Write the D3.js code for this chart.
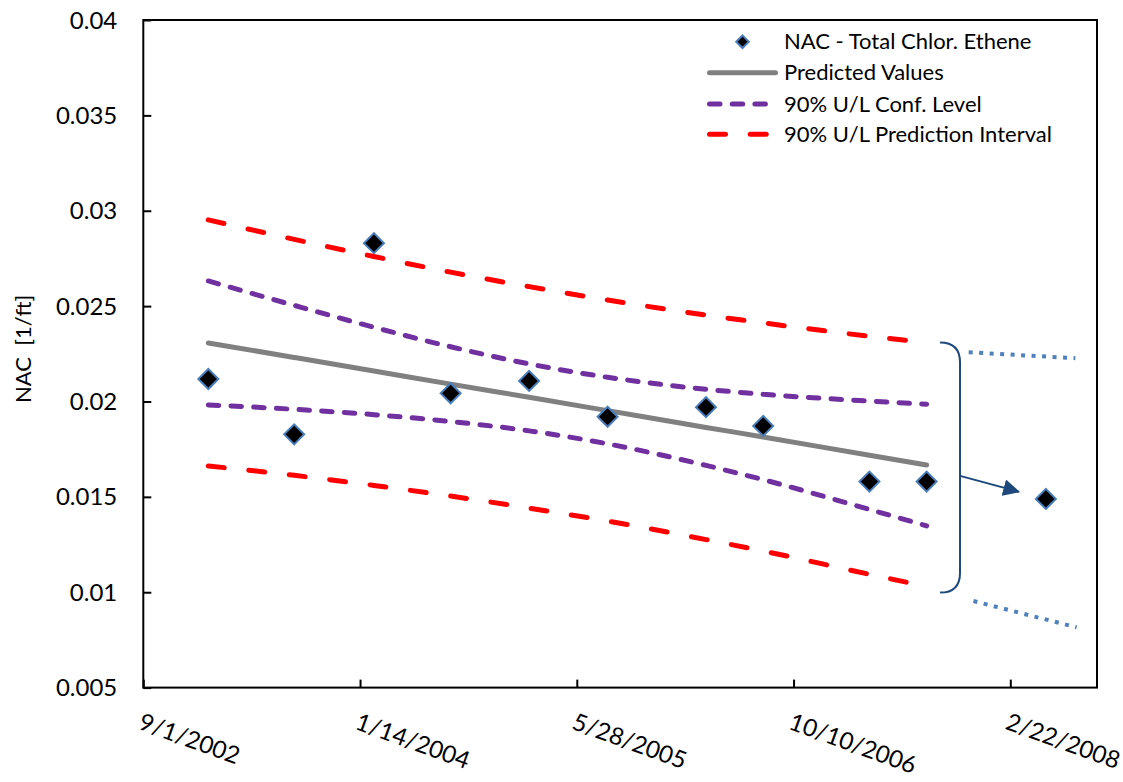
<!DOCTYPE html>
<html>
<head>
<meta charset="utf-8">
<script src="https://cdn.jsdelivr.net/npm/d3@7"></script>
<style>
  body { margin: 0; background: #fff; }
  svg { display: block; font-family: Lato, "Open Sans", sans-serif; }
</style>
</head>
<body>
<svg id="chart" width="1123" height="782"></svg>
<script>
// Observed NAC samples (total chlorinated ethene)
const sampleDates = ["2003-01-29", "2003-08-15", "2004-02-15", "2004-08-10", "2005-02-07",
                     "2005-08-07", "2006-03-22", "2006-08-01", "2007-04-03", "2007-08-13", "2008-05-14"];
const nacValues   = [0.02118, 0.01828, 0.02830, 0.02043, 0.02108,
                     0.01920, 0.01970, 0.01872, 0.01580, 0.01580, 0.01489];

// Regression fit evaluated at the dates used for the fit
const fitDates    = ["2003-01-29", "2003-08-15", "2004-02-15", "2004-08-10", "2005-02-07",
                     "2005-08-07", "2006-03-22", "2006-08-01", "2007-04-03", "2007-08-13"];
const predicted   = [0.02307, 0.02231, 0.02160, 0.02091, 0.02022, 0.01952, 0.01864, 0.01814, 0.01718, 0.01667];
const confUpper   = [0.02632, 0.02504, 0.02389, 0.02287, 0.02197, 0.02127, 0.02064, 0.02038, 0.02002, 0.01986];
const confLower   = [0.01982, 0.01959, 0.01931, 0.01895, 0.01846, 0.01778, 0.01665, 0.01590, 0.01434, 0.01348];
const predUpper   = [0.02952, 0.02850, 0.02760, 0.02678, 0.02602, 0.02532, 0.02453, 0.02412, 0.02342, 0.02309];
const predLower   = [0.01662, 0.01613, 0.01560, 0.01504, 0.01441, 0.01373, 0.01276, 0.01216, 0.01094, 0.01030];

// Projection annotation: bracket, arrow and dotted extension of the interval
const bracketDates  = ["2007-09-13", "2007-10-29"];
const bracketValues = [0.02309, 0.00998];
const arrowDates    = ["2007-10-29", "2008-03-12"];
const arrowValues   = [0.01610, 0.01527];
const extUpperDates = ["2007-11-18", "2008-07-21"];
const extUpperVals  = [0.02258, 0.02227];
const extLowerDates = ["2007-11-29", "2008-07-24"];
const extLowerVals  = [0.00954, 0.00816];

// Axes
const xDomain     = ["2002-09-01", "2008-09-09"];
const xTickDates  = ["2002-09-01", "2004-01-14", "2005-05-28", "2006-10-10", "2008-02-22"];
const xTickLabels = ["9/1/2002", "1/14/2004", "5/28/2005", "10/10/2006", "2/22/2008"];
const yTicks      = [0.005, 0.01, 0.015, 0.02, 0.025, 0.03, 0.035, 0.04];
const yTickLabels = ["0.005", "0.01", "0.015", "0.02", "0.025", "0.03", "0.035", "0.04"];

const seriesNames = ["NAC - Total Chlor. Ethene", "Predicted Values",
                     "90% U/L Conf. Level", "90% U/L Prediction Interval"];

const parse = d3.utcParse("%Y-%m-%d");
const svg = d3.select("#chart");
const W = 1123, H = 782;
const m = { left: 143.3, top: 20, right: 26, bottom: 94.4 };
const pw = W - m.left - m.right, ph = H - m.top - m.bottom;

const x = d3.scaleUtc().domain(xDomain.map(parse)).range([m.left, m.left + pw]);
const y = d3.scaleLinear().domain([0.005, 0.04]).range([m.top + ph, m.top]);

const blueEdge = "#4a7ebb";
const navy = "#1f497d";

// Frame
svg.append("rect")
  .attr("x", m.left).attr("y", m.top).attr("width", pw).attr("height", ph)
  .attr("fill", "none").attr("stroke", "#000").attr("stroke-width", 2);

// Y axis (ticks pointing inward)
const yAxis = svg.append("g").attr("transform", `translate(${m.left},0)`)
  .call(d3.axisRight(y).tickValues(yTicks).tickSize(8).tickFormat(""));
yAxis.select(".domain").remove();
yAxis.selectAll("line").attr("stroke", "#000").attr("stroke-width", 2);
svg.append("g").selectAll("text").data(yTicks).join("text")
  .attr("x", m.left - 26).attr("y", d => y(d)).attr("dy", "0.36em")
  .attr("text-anchor", "end").attr("font-size", 24).attr("fill", "#000")
  .text((d, i) => yTickLabels[i]);

// X axis (ticks pointing inward, rotated labels)
const xAxis = svg.append("g").attr("transform", `translate(0,${m.top + ph})`)
  .call(d3.axisTop(x).tickValues(xTickDates.map(parse)).tickSize(8).tickFormat(""));
xAxis.select(".domain").remove();
xAxis.selectAll("line").attr("stroke", "#000").attr("stroke-width", 2);
svg.append("g").selectAll("text").data(xTickDates).join("text")
  .attr("transform", d => `translate(${x(parse(d)) - 6},${m.top + ph + 41}) rotate(20)`)
  .attr("font-size", 24).attr("fill", "#000")
  .text((d, i) => xTickLabels[i]);

// Y axis title
svg.append("text")
  .attr("transform", `translate(31,${m.top + ph / 2 - 5}) rotate(-90)`)
  .attr("text-anchor", "middle").attr("font-size", 22).attr("fill", "#000")
  .text("NAC\u00a0\u00a0[1/ft]");

// Lines
const fit = fitDates.map(parse);
const lineGen = d3.line().x(d => x(d[0])).y(d => y(d[1])).curve(d3.curveMonotoneX);
const zipFit = vals => fit.map((d, i) => [d, vals[i]]);

const redStyle = { stroke: "#ff0000", dash: "16,24.7" };
const purpleStyle = { stroke: "#7030a0", dash: "10.5,12.2" };

function drawLine(vals, st) {
  svg.append("path").datum(zipFit(vals))
    .attr("d", lineGen).attr("fill", "none")
    .attr("stroke", st.stroke).attr("stroke-width", 5)
    .attr("stroke-linecap", "round")
    .attr("stroke-dasharray", st.dash || null);
}
drawLine(predUpper, redStyle);
drawLine(predLower, redStyle);
drawLine(confUpper, purpleStyle);
drawLine(confLower, purpleStyle);
drawLine(predicted, { stroke: "#808080" });

// Dotted extension of the prediction interval
[[extUpperDates, extUpperVals], [extLowerDates, extLowerVals]].forEach(([ds, vs]) => {
  svg.append("path").datum(ds.map((d, i) => [parse(d), vs[i]]))
    .attr("d", d3.line().x(d => x(d[0])).y(d => y(d[1])))
    .attr("fill", "none").attr("stroke", "#4f81bd").attr("stroke-width", 4)
    .attr("stroke-dasharray", "4,6.5");
});

// Bracket "}"
{
  const xl = x(parse(bracketDates[0])), xr = x(parse(bracketDates[1]));
  const yt = y(bracketValues[0]), yb = y(bracketValues[1]);
  const r = xr - xl;
  const p = d3.path();
  p.moveTo(xl, yt);
  p.quadraticCurveTo(xr, yt, xr, yt + r);
  p.lineTo(xr, yb - r);
  p.quadraticCurveTo(xr, yb, xl, yb);
  svg.append("path").attr("d", p.toString())
    .attr("fill", "none").attr("stroke", navy).attr("stroke-width", 2);
}

// Arrow toward the later sample
{
  const defs = svg.append("defs");
  defs.append("marker").attr("id", "arrowHead")
    .attr("viewBox", "0 0 10 10").attr("refX", 9).attr("refY", 5)
    .attr("markerWidth", 17).attr("markerHeight", 17).attr("markerUnits", "userSpaceOnUse")
    .attr("orient", "auto")
    .append("path").attr("d", "M0,0 L10,5 L0,10 Z").attr("fill", navy);
  const pts = arrowDates.map((d, i) => [parse(d), arrowValues[i]]);
  svg.append("path").datum(pts)
    .attr("d", d3.line().x(d => x(d[0])).y(d => y(d[1])))
    .attr("fill", "none").attr("stroke", navy).attr("stroke-width", 2)
    .attr("marker-end", "url(#arrowHead)");
}

// Sample markers
const diamond = d3.symbol(d3.symbolSquare, 200);
svg.append("g").selectAll("path").data(sampleDates).join("path")
  .attr("d", diamond)
  .attr("transform", (d, i) => `translate(${x(parse(d))},${y(nacValues[i])}) rotate(45)`)
  .attr("fill", "#000").attr("stroke", blueEdge).attr("stroke-width", 2);

// Legend
const lg = svg.append("g").attr("font-size", 22).attr("fill", "#000");
const rows = [41.7, 72.7, 104, 134.3];
const lx0 = 707, lx1 = 778, tx = 784;
lg.append("path").attr("d", d3.symbol(d3.symbolSquare, 80)())
  .attr("transform", `translate(${(lx0 + lx1) / 2},${rows[0]}) rotate(45)`)
  .attr("fill", "#000").attr("stroke", blueEdge).attr("stroke-width", 2);
[[rows[1], { stroke: "#808080" }], [rows[2], purpleStyle], [rows[3], redStyle]].forEach(([ry, st]) => {
  lg.append("line").attr("x1", lx0 + 2.5).attr("x2", lx1 - 2.5).attr("y1", ry).attr("y2", ry)
    .attr("stroke", st.stroke).attr("stroke-width", 5).attr("stroke-linecap", "round")
    .attr("stroke-dasharray", st.dash || null);
});
lg.selectAll("text").data(seriesNames).join("text")
  .attr("x", tx).attr("y", (d, i) => rows[i]).attr("dy", "0.35em")
  .text(d => d);
</script>
</body>
</html>
